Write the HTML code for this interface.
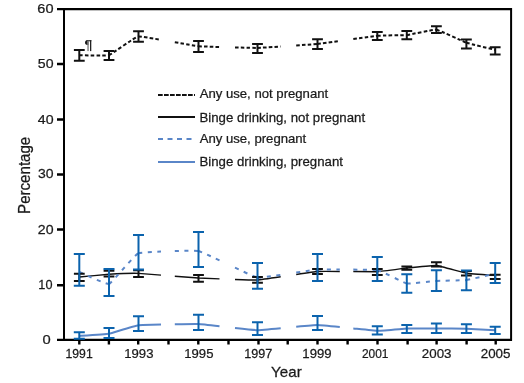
<!DOCTYPE html>
<html><head><meta charset="utf-8"><style>
html,body{margin:0;padding:0;background:#fff;}
svg{display:block;will-change:transform;}
.t{font-family:"Liberation Sans",sans-serif;fill:#1a1a1a;stroke:#1a1a1a;stroke-width:0.25px;}
.t14{font-family:"Liberation Sans",sans-serif;font-size:14.5px;fill:#1a1a1a;}
.lg{font-family:"Liberation Sans",sans-serif;font-size:13px;fill:#1a1a1a;}
.pil{font-family:"Liberation Sans",sans-serif;font-size:12px;fill:#555;}
</style></head><body>
<svg width="524" height="383" viewBox="0 0 524 383">
<path d="M57 9.15H512M57 339.8H512" stroke="#000" stroke-width="2.2" fill="none"/><path d="M64 8.0V340.8M511.1 8.0V340.8" stroke="#000" stroke-width="2" fill="none"/><path d="M57 285.3H64M57 229.4H64M57 174.4H64M57 119.6H64M57 64.0H64" stroke="#000" stroke-width="2.5" fill="none"/><path d="M79.3 340V344.6M108.9 340V344.6M138.2 340V344.6M168.5 340V344.6M198.3 340V344.6M228.5 340V344.6M258.5 340V344.6M287.7 340V344.6M317.5 340V344.6M347.6 340V344.6M377.5 340V344.6M407.6 340V344.6M436.6 340V344.6M466.6 340V344.6M495.7 340V344.6" stroke="#000" stroke-width="2.4" fill="none"/>
<path d="M79.30 55.20C80.49 55.20 106.63 55.95 109.00 55.20M109.00 55.20C111.37 54.45 134.92 36.86 138.50 36.50M138.50 36.50C139.99 36.35 149.75 37.92 161.00 39.83M174.80 42.21C186.28 44.21 196.51 46.01 198.50 46.20M198.50 46.20C200.38 46.38 209.20 46.70 219.50 47.01M235.00 47.45C245.93 47.73 255.53 47.94 257.50 47.90M257.50 47.90C259.49 47.86 269.43 47.24 280.70 46.50M296.20 45.45C306.66 44.74 315.61 44.09 317.50 43.90M317.50 43.90C319.43 43.71 328.92 42.41 339.80 40.91M353.30 39.05C365.17 37.41 375.75 35.95 377.30 35.80M377.30 35.80C380.87 35.44 404.44 35.24 406.80 35.00M406.80 35.00C409.16 34.76 434.02 29.39 436.40 29.70M436.40 29.70C438.78 30.01 464.05 41.89 466.40 42.70M466.40 42.70C468.75 43.51 494.05 49.61 495.20 49.90" stroke="#111" stroke-width="2" stroke-dasharray="3.5 2.2" fill="none"/><path d="M79.30 277.00C80.49 276.89 106.63 274.44 109.00 274.30M109.00 274.30C111.37 274.16 134.92 273.25 138.50 273.40M138.50 273.40C139.99 273.46 149.75 274.22 161.00 275.10M174.80 276.19C186.28 277.09 196.51 277.89 198.50 278.00M198.50 278.00C200.38 278.10 209.20 278.48 219.50 278.88M235.00 279.45C245.93 279.83 255.53 280.11 257.50 280.00M257.50 280.00C259.49 279.89 269.43 278.45 280.70 276.78M296.20 274.48C306.66 272.93 315.61 271.63 317.50 271.50M317.50 271.50C319.43 271.37 328.92 271.40 339.80 271.47M353.30 271.57C365.17 271.67 375.75 271.76 377.30 271.70M377.30 271.70C380.87 271.56 404.44 268.25 406.80 268.00M406.80 268.00C409.16 267.75 434.02 265.29 436.40 265.50M436.40 265.50C438.78 265.71 464.05 272.80 466.40 273.20M466.40 273.20C468.75 273.60 494.05 275.41 495.20 275.50" stroke="#111" stroke-width="1.4" fill="none"/><path d="M79.30 272.00C80.49 272.48 106.63 284.75 109.00 284.00M109.00 284.00C111.37 283.25 134.92 254.52 138.50 253.20M138.50 253.20C139.99 252.65 149.75 252.01 161.00 251.52M174.80 251.02C186.28 250.68 196.51 250.59 198.50 251.00M198.50 251.00C200.38 251.38 209.20 255.49 219.50 260.36M235.00 267.70C245.93 272.87 255.53 277.29 257.50 277.60M257.50 277.60C259.49 277.91 269.43 276.60 280.70 274.95M296.20 272.61C306.66 271.01 315.61 269.62 317.50 269.50M317.50 269.50C319.43 269.38 328.92 269.38 339.80 269.46M353.30 269.59C365.17 269.74 375.75 269.96 377.30 270.20M377.30 270.20C380.87 270.76 404.44 283.07 406.80 283.50M406.80 283.50C409.16 283.93 434.02 281.04 436.40 280.90M436.40 280.90C438.78 280.76 464.05 280.40 466.40 280.10M466.40 280.10C468.75 279.80 494.05 273.76 495.20 273.50" stroke="#5a86c8" stroke-width="2" stroke-dasharray="4 5.5" fill="none"/><path d="M79.30 336.00C80.49 335.91 106.63 334.13 109.00 333.70M109.00 333.70C111.37 333.27 134.92 325.58 138.50 325.20M138.50 325.20C139.99 325.04 149.75 324.79 161.00 324.57M174.80 324.32C186.28 324.13 196.51 324.02 198.50 324.10M198.50 324.10C200.38 324.18 209.20 325.14 219.50 326.27M235.00 327.98C245.93 329.17 255.53 330.19 257.50 330.20M257.50 330.20C259.49 330.22 269.43 329.31 280.70 328.25M296.20 326.78C306.66 325.80 315.61 324.99 317.50 325.00M317.50 325.00C319.43 325.01 328.92 325.93 339.80 327.03M353.30 328.42C365.17 329.64 375.75 330.74 377.30 330.80M377.30 330.80C380.87 330.94 404.44 328.70 406.80 328.60M406.80 328.60C409.16 328.50 434.02 328.39 436.40 328.40M436.40 328.40C438.78 328.41 464.05 328.73 466.40 328.80M466.40 328.80C468.75 328.87 494.05 330.14 495.20 330.20" stroke="#5a86c8" stroke-width="2" fill="none"/><path d="M73.9 50.0H84.7M73.9 60.8H84.7M79.3 50.0V60.8M103.6 51.0H114.4M103.6 60.0H114.4M109.0 51.0V60.0M133.1 31.2H143.9M133.1 41.7H143.9M138.5 31.2V41.7M193.1 40.9H203.9M193.1 52.1H203.9M198.5 40.9V52.1M252.1 43.9H262.9M252.1 52.9H262.9M257.5 43.9V52.9M312.1 39.2H322.9M312.1 49.0H322.9M317.5 39.2V49.0M371.9 31.9H382.7M371.9 39.9H382.7M377.3 31.9V39.9M401.4 31.0H412.2M401.4 39.2H412.2M406.8 31.0V39.2M431.0 26.2H441.8M431.0 33.0H441.8M436.4 26.2V33.0M461.0 39.5H471.8M461.0 48.5H471.8M466.4 39.5V48.5M489.8 47.3H500.6M489.8 54.4H500.6M495.2 47.3V54.4" stroke="#111" stroke-width="2.0" fill="none"/><path d="M73.9 273.7H84.7M73.9 280.9H84.7M79.3 273.7V280.9M103.6 270.8H114.4M103.6 276.6H114.4M109.0 270.8V276.6M133.1 270.3H143.9M133.1 277.0H143.9M138.5 270.3V277.0M193.1 275.0H203.9M193.1 281.8H203.9M198.5 275.0V281.8M252.1 277.0H262.9M252.1 282.8H262.9M257.5 277.0V282.8M312.1 268.9H322.9M312.1 274.1H322.9M317.5 268.9V274.1M371.9 268.9H382.7M371.9 275.0H382.7M377.3 268.9V275.0M401.4 266.6H412.2M401.4 269.7H412.2M406.8 266.6V269.7M431.0 262.2H441.8M431.0 266.5H441.8M436.4 262.2V266.5M461.0 271.1H471.8M461.0 275.4H471.8M466.4 271.1V275.4M489.8 274.8H500.6M489.8 279.1H500.6M495.2 274.8V279.1" stroke="#111" stroke-width="2.0" fill="none"/><path d="M73.8 253.9H84.8M73.8 285.8H84.8M79.3 253.9V285.8M103.5 268.9H114.5M103.5 296.0H114.5M109.0 268.9V296.0M133.0 234.9H144.0M133.0 269.4H144.0M138.5 234.9V269.4M193.0 232.1H204.0M193.0 267.0H204.0M198.5 232.1V267.0M252.0 263.0H263.0M252.0 288.8H263.0M257.5 263.0V288.8M312.0 253.9H323.0M312.0 281.0H323.0M317.5 253.9V281.0M371.8 257.0H382.8M371.8 280.9H382.8M377.3 257.0V280.9M401.3 274.2H412.3M401.3 292.8H412.3M406.8 274.2V292.8M430.9 270.3H441.9M430.9 290.9H441.9M436.4 270.3V290.9M460.9 270.4H471.9M460.9 290.2H471.9M466.4 270.4V290.2M489.7 263.0H500.7M489.7 282.9H500.7M495.2 263.0V282.9" stroke="#0b63ad" stroke-width="2.0" fill="none"/><path d="M73.8 332.3H84.8M73.8 338.8H84.8M79.3 332.3V338.8M103.5 328.1H114.5M103.5 338.0H114.5M109.0 328.1V338.0M133.0 316.2H144.0M133.0 331.0H144.0M138.5 316.2V331.0M193.0 314.7H204.0M193.0 330.0H204.0M198.5 314.7V330.0M252.0 322.2H263.0M252.0 334.9H263.0M257.5 322.2V334.9M312.0 316.0H323.0M312.0 330.0H323.0M317.5 316.0V330.0M371.8 326.2H382.8M371.8 334.4H382.8M377.3 326.2V334.4M401.3 325.0H412.3M401.3 333.0H412.3M406.8 325.0V333.0M430.9 323.5H441.9M430.9 333.0H441.9M436.4 323.5V333.0M460.9 324.2H471.9M460.9 333.0H471.9M466.4 324.2V333.0M489.7 326.8H500.7M489.7 333.9H500.7M495.2 326.8V333.9" stroke="#0b63ad" stroke-width="2.0" fill="none"/>
<path d="M158 95H195" stroke="#111" stroke-width="2" stroke-dasharray="4.7 1.3"/><path d="M158 116.9H195" stroke="#111" stroke-width="2"/><path d="M158 138.9H195" stroke="#5a86c8" stroke-width="2" stroke-dasharray="5 4.5"/><path d="M158 162H195" stroke="#5a86c8" stroke-width="2"/><text transform="translate(199.63 97.60) scale(0.9881 1.0000)" style="font-size:13.3px" class="t">Any use, not pregnant</text><text transform="translate(199.44 121.70) scale(0.9965 1.0000)" style="font-size:13.3px" class="t">Binge drinking, not pregnant</text><text transform="translate(199.63 143.40) scale(0.9880 1.0000)" style="font-size:13.3px" class="t">Any use, pregnant</text><text transform="translate(199.44 166.20) scale(0.9962 1.0000)" style="font-size:13.3px" class="t">Binge drinking, pregnant</text>
<text transform="translate(42.47 344.10) scale(1.0916 1.0000)" style="font-size:13.5px" class="t">0</text><text transform="translate(38.35 288.90) scale(0.9407 1.0000)" style="font-size:13.5px" class="t">10</text><text transform="translate(37.79 233.90) scale(1.0479 1.0000)" style="font-size:13.5px" class="t">20</text><text transform="translate(37.94 178.10) scale(1.0378 1.0000)" style="font-size:13.5px" class="t">30</text><text transform="translate(37.75 123.90) scale(1.0511 1.0000)" style="font-size:13.5px" class="t">40</text><text transform="translate(37.80 68.30) scale(1.0471 1.0000)" style="font-size:13.5px" class="t">50</text><text transform="translate(37.37 13.00) scale(1.0768 1.0000)" style="font-size:13.5px" class="t">60</text><text transform="translate(65.52 357.70) scale(0.9051 1.0000)" style="font-size:13.5px" class="t">1991</text><text transform="translate(124.28 357.70) scale(0.9726 1.0000)" style="font-size:13.5px" class="t">1993</text><text transform="translate(184.28 357.70) scale(0.9703 1.0000)" style="font-size:13.5px" class="t">1995</text><text transform="translate(244.31 357.70) scale(0.9347 1.0000)" style="font-size:13.5px" class="t">1997</text><text transform="translate(302.36 357.70) scale(0.9753 1.0000)" style="font-size:13.5px" class="t">1999</text><text transform="translate(361.90 357.70) scale(0.8837 1.0000)" style="font-size:13.5px" class="t">2001</text><text transform="translate(421.83 357.70) scale(0.9877 1.0000)" style="font-size:13.5px" class="t">2003</text><text transform="translate(480.73 357.70) scale(0.9923 1.0000)" style="font-size:13.5px" class="t">2005</text><text transform="translate(271.12 377.30) scale(1.0522 1.0000)" style="font-size:14.4px" class="t">Year</text><text transform="translate(29.60 213.91) rotate(-90) scale(0.9563 1)" style="font-size:15.8px" class="t">Percentage</text><path d="M88.6 40.3H86.8C85.7 40.3 85.0 41.3 85.0 42.6C85.0 43.9 85.8 44.9 86.9 44.9H88.6Z" fill="#1a1a1a"/><rect x="86.6" y="40.2" width="4.8" height="1.1" fill="#1a1a1a"/><rect x="87.3" y="40.6" width="1.5" height="10.5" fill="#8a8a8a"/><rect x="90.0" y="40.2" width="1.3" height="10.9" fill="#222"/>
</svg>
</body></html>
